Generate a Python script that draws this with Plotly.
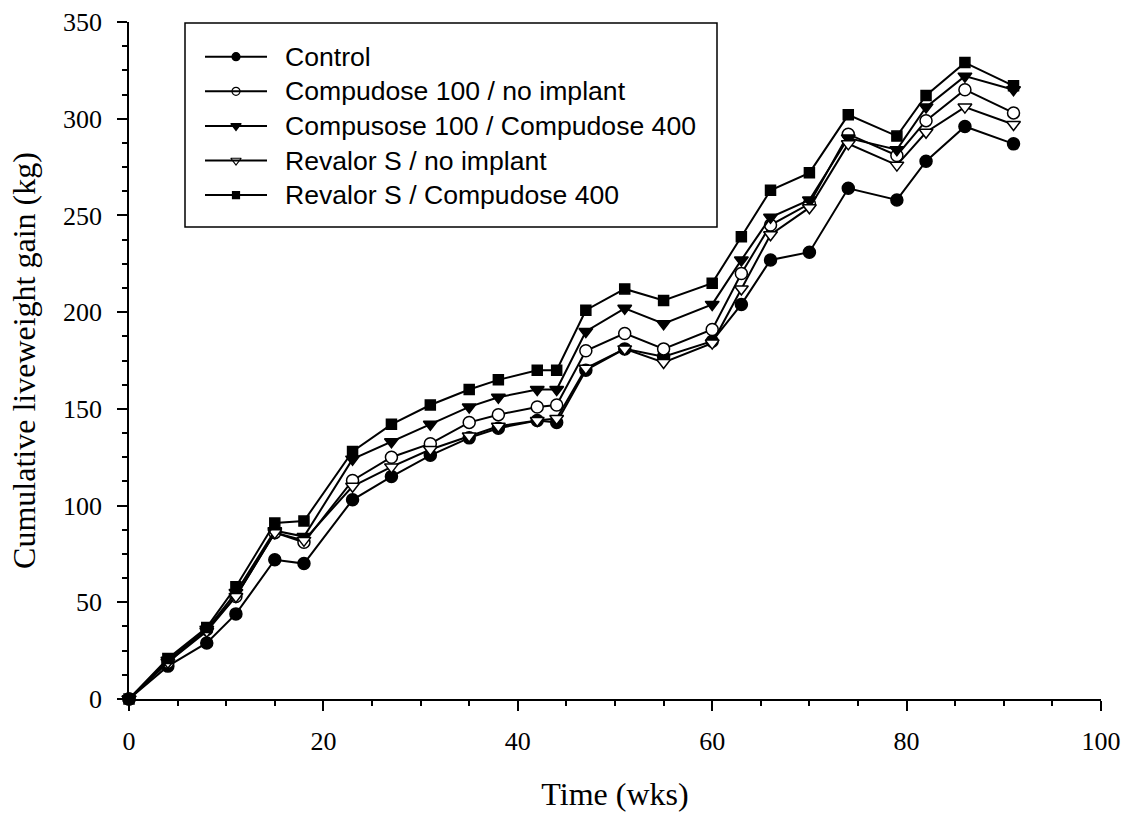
import plotly.graph_objects as go

# Sampling times (weeks)
weeks = [0, 4, 8, 11, 15, 18, 23, 27, 31, 35, 38, 42, 44, 47, 51, 55, 60, 63, 66, 70, 74, 79, 82, 86, 91]

# Cumulative liveweight gain (kg) per treatment
control = [0, 17, 29, 44, 72, 70, 103, 115, 126, 135, 140, 144, 143, 170, 181, 177, 185, 204, 227, 231, 264, 258, 278, 296, 287]
comp100_none = [0, 19, 36, 53, 86, 81, 113, 125, 132, 143, 147, 151, 152, 180, 189, 181, 191, 220, 245, 256, 292, 281, 299, 315, 303]
comp100_comp400 = [0, 20, 36, 55, 87, 84, 124, 133, 142, 151, 156, 160, 160, 190, 202, 194, 204, 227, 249, 258, 290, 284, 306, 322, 315]
revalor_none = [0, 19, 35, 53, 86, 82, 110, 120, 129, 136, 141, 144, 145, 171, 181, 174, 184, 212, 240, 254, 287, 276, 293, 306, 297]
revalor_comp400 = [0, 21, 37, 58, 91, 92, 128, 142, 152, 160, 165, 170, 170, 201, 212, 206, 215, 239, 263, 272, 302, 291, 312, 329, 317]

series_names = [
    "Control",
    "Compudose 100 / no implant",
    "Compusose 100 / Compudose 400",
    "Revalor S / no implant",
    "Revalor S / Compudose 400",
]
series_values = [control, comp100_none, comp100_comp400, revalor_none, revalor_comp400]

# symbol, fill colour, plot size, key size
styles = [
    ("circle", "black", 12, 8),
    ("circle", "white", 12, 8),
    ("triangle-down", "black", 12, 9),
    ("triangle-down", "white", 12, 9),
    ("square", "black", 10, 7),
]

W, H = 1126, 813
L, R, T, B = 129, 25, 22, 114

fig = go.Figure()

for name, vals, (sym, fill, size, _) in zip(series_names, series_values, styles):
    fig.add_trace(go.Scatter(
        x=weeks, y=vals, mode="lines+markers", name=name,
        showlegend=False, cliponaxis=False,
        line=dict(color="black", width=2),
        marker=dict(symbol=sym, size=size, color=fill, line=dict(color="black", width=1.5)),
    ))

# Key drawn in pixel space on an overlay axis pair (x to the right, y downward)
key_left, key_right, key_top, key_bottom = 185, 717, 23, 227
row0, row_gap = 56.7, 34.6
line_x0, line_x1, text_x = 205, 267, 283
rows = [row0 + i * row_gap for i in range(len(series_names))]
mid = (line_x0 + line_x1) / 2

for i, (name, (sym, fill, _, ksize)) in enumerate(zip(series_names, styles)):
    fig.add_shape(type="line", xref="x2", yref="y2",
                  x0=line_x0, x1=line_x1, y0=rows[i], y1=rows[i],
                  line=dict(color="black", width=2), layer="above")
    fig.add_trace(go.Scatter(
        x=[mid], y=[rows[i]], xaxis="x2", yaxis="y2", mode="markers",
        showlegend=False, hoverinfo="skip", cliponaxis=False,
        marker=dict(symbol=sym, size=ksize, color=fill, line=dict(color="black", width=1.2)),
    ))
    fig.add_annotation(xref="x2", yref="y2", x=text_x, y=rows[i], text=name,
                       showarrow=False, xanchor="left", yanchor="middle",
                       font=dict(family="Liberation Sans, Arial, sans-serif", size=26.6, color="black"))

fig.add_shape(type="rect", xref="x2", yref="y2",
              x0=key_left, x1=key_right, y0=key_top, y1=key_bottom,
              line=dict(color="black", width=1.5), fillcolor="rgba(0,0,0,0)", layer="above")

serif = "Liberation Serif, Times New Roman, serif"

fig.update_layout(
    width=W, height=H,
    margin=dict(l=L, r=R, t=T, b=B, autoexpand=False),
    paper_bgcolor="white", plot_bgcolor="white",
    showlegend=False,
    xaxis=dict(
        range=[0, 100], dtick=20, tick0=0,
        showline=True, linecolor="black", linewidth=1.5,
        ticks="outside", ticklen=10, tickwidth=1.5, tickcolor="black",
        minor=dict(dtick=5, ticks="outside", ticklen=5, tickwidth=1.5, tickcolor="black"),
        showgrid=False, zeroline=False,
        tickfont=dict(family=serif, size=26, color="black"),
        ticklabelstandoff=8,
        title=dict(text="Time (wks)", font=dict(family=serif, size=32, color="black"), standoff=28),
    ),
    yaxis=dict(
        range=[0, 350], dtick=50, tick0=0,
        showline=True, linecolor="black", linewidth=1.5,
        ticks="outside", ticklen=10, tickwidth=1.5, tickcolor="black",
        minor=dict(dtick=12.5, ticks="outside", ticklen=5, tickwidth=1.5, tickcolor="black"),
        showgrid=False, zeroline=False,
        tickfont=dict(family=serif, size=26, color="black"),
        ticklabelstandoff=10,
        title=dict(text="Cumulative liveweight gain (kg)", font=dict(family=serif, size=32, color="black"), standoff=18),
    ),
    xaxis2=dict(overlaying="x", anchor="y2", range=[L, W - R], visible=False, fixedrange=True),
    yaxis2=dict(overlaying="y", anchor="x2", range=[H - B, T], visible=False, fixedrange=True),
)

fig.write_html("out.html")
